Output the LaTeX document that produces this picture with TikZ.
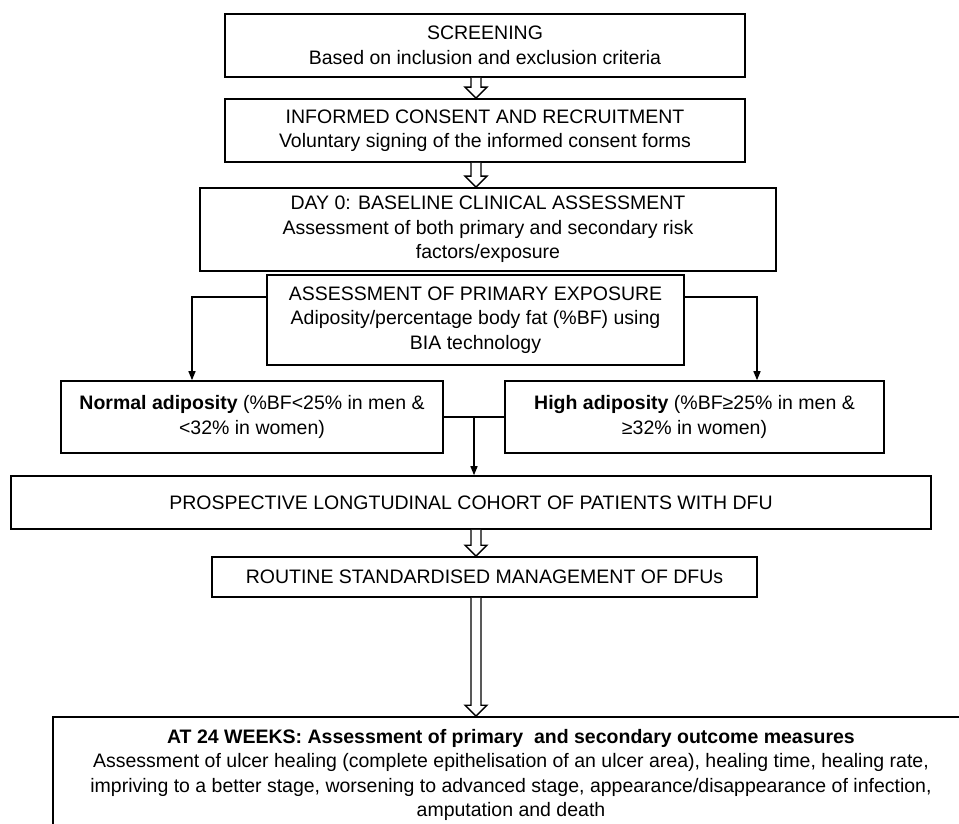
\documentclass[tikz,border=0pt]{standalone}
\usepackage{fontspec}
\setmainfont{Liberation Sans}
\usetikzlibrary{arrows.meta,calc}
\newcommand\hollowarrow[2]{%
  \draw[hollowarr] let \p1=(#1), \p2=(#2) in
    (\x1-5pt,\y1) -- (\x1-5pt,\y2+11pt) -- (\x1-11pt,\y2+11pt) -- (\x1,\y2)
    -- (\x1+11pt,\y2+11pt) -- (\x1+5pt,\y2+11pt) -- (\x1+5pt,\y1);}
\begin{document}
\begin{tikzpicture}[x=1pt,y=-1pt,
  box/.style={draw, line width=1.6pt, inner sep=0pt, align=center,
    font=\fontsize{19.5}{24.5}\selectfont},
  thinline/.style={line width=1.4pt},
  tip/.style={-{Triangle[length=9pt,width=7pt]}},
  hollowarr/.style={line width=1.4pt, fill=white}]
\useasboundingbox[fill=white] (0,0) rectangle (959,824);
\begin{scope}
\clip (0,0) rectangle (959,824);
\node[box, minimum width=520pt, minimum height=63pt] (s) at (485,45.5)
  {SCREENING\\Based on inclusion and exclusion criteria};
\node[box, minimum width=520pt, minimum height=63pt] (c) at (485,130.5)
  {INFORMED CONSENT AND RECRUITMENT\\Voluntary signing of the informed consent forms};
\node[box, minimum width=576pt, minimum height=83pt] (d) at (488,229.5)
  {DAY 0: BASELINE CLINICAL ASSESSMENT\\Assessment of both primary and secondary risk\\factors/exposure};
\node[box, minimum width=417pt, minimum height=90pt] (pe) at (475.5,320)
  {ASSESSMENT OF PRIMARY EXPOSURE\\Adiposity/percentage body fat (\%BF) using\\BIA technology};
\node[box, minimum width=382pt, minimum height=72pt] (n) at (252,417)
  {\textbf{Normal adiposity} (\%BF<25\% in men \&\\<32\% in women)};
\node[box, minimum width=379pt, minimum height=72pt] (h) at (694.5,417)
  {\textbf{High adiposity} (\%BF≥25\% in men \&\\≥32\% in women)};
\node[box, minimum width=920pt, minimum height=53pt] (p) at (471,502.5)
  {PROSPECTIVE LONGTUDINAL COHORT OF PATIENTS WITH DFU};
\node[box, minimum width=545pt, minimum height=40pt] (r) at (484.5,577)
  {ROUTINE STANDARDISED MANAGEMENT OF DFUs};
\node[box, minimum width=916pt, minimum height=116pt] (a) at (511,775)
  {\textbf{AT 24 WEEKS: Assessment of primary\ \ and secondary outcome measures}\\
   Assessment of ulcer healing (complete epithelisation of an ulcer area), healing time, healing rate,\\
   impriving to a better stage, worsening to advanced stage, appearance/disappearance of infection,\\
   amputation and death};
\end{scope}
\coordinate (ax) at (476,0);
\coordinate (lb) at (192,297);
\coordinate (rb) at (757,297);
\coordinate (j) at ($(n.east)!0.5!(h.west)$);
\hollowarrow{ax |- s.south}{ax |- c.north}
\hollowarrow{ax |- c.south}{ax |- d.north}
\hollowarrow{ax |- p.south}{ax |- r.north}
\hollowarrow{ax |- r.south}{ax |- a.north}
\draw[thinline, tip] (pe.west |- lb) -- (lb) -- (lb |- n.north);
\draw[thinline, tip] (pe.east |- rb) -- (rb) -- (rb |- h.north);
\draw[thinline] (n.east) -- (h.west);
\draw[thinline, tip] (j) -- (j |- p.north);
\end{tikzpicture}
\end{document}
